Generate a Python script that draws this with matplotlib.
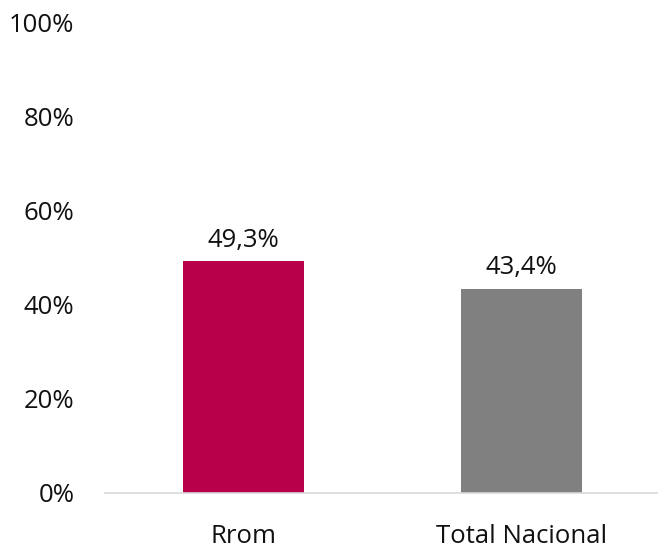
import matplotlib.pyplot as plt
from matplotlib.ticker import FuncFormatter

plt.rcParams['font.family'] = ['Open Sans', 'DejaVu Sans']

categories = ["Rrom", "Total Nacional"]
values = [0.493, 0.434]
labels = ["49,3%", "43,4%"]
colors = ["#B8004A", "#808080"]

fig = plt.figure(figsize=(6.58, 5.48), dpi=100)
ax = fig.add_axes([105/658, 1 - 492.5/548, 555/658, 469.5/548])

x = range(len(categories))
bars = ax.bar(x, values, width=0.435, color=colors)
for b, lab in zip(bars, labels):
    ax.annotate(lab, (b.get_x() + b.get_width()/2, b.get_height()),
                xytext=(0, 6), textcoords="offset points",
                ha="center", va="bottom", fontsize=18.5, color="#111111")

ax.set_xlim(-0.5, 1.5)
ax.set_ylim(0, 1)
ax.set_yticks([0, 0.2, 0.4, 0.6, 0.8, 1.0])
ax.yaxis.set_major_formatter(FuncFormatter(lambda v, p: f"{v*100:.0f}%"))
ax.set_xticks(list(x))
ax.set_xticklabels(categories)
ax.tick_params(axis="y", length=0, pad=22, labelsize=18.5, labelcolor="#111111")
ax.tick_params(axis="x", length=0, pad=23, labelsize=18.5, labelcolor="#111111")

for s in ["top", "right", "left"]:
    ax.spines[s].set_visible(False)
ax.spines["bottom"].set_color("#d9d9d9")
ax.spines["bottom"].set_linewidth(1.2)

fig.savefig("out.png", dpi=100)
